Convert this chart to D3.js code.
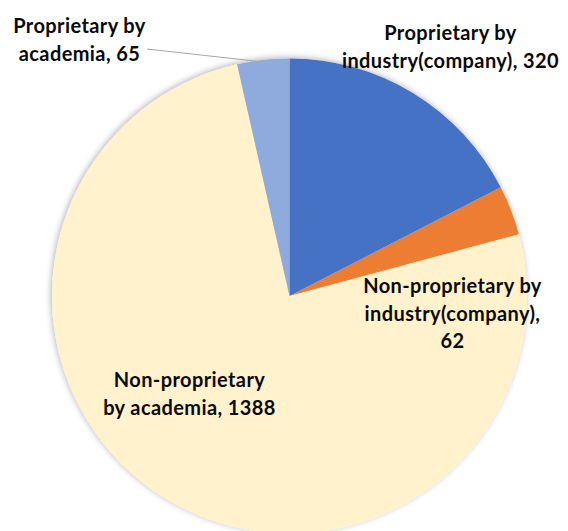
<!DOCTYPE html>
<html>
<head>
<meta charset="utf-8">
<script src="https://cdn.jsdelivr.net/npm/d3@7"></script>
<style>
  body { margin: 0; background: #fff; }
  svg { display: block; }
  .lbl { font-family: Lato, "Open Sans", sans-serif; font-weight: bold; font-size: 20px; letter-spacing: 0.4px; fill: #0a0a0a; }
</style>
</head>
<body>
<svg id="chart" width="568" height="531"></svg>
<script>
// slices, clockwise from 12 o'clock
var categories = ['Proprietary by industry(company)', 'Non-proprietary by industry(company)', 'Non-proprietary by academia', 'Proprietary by academia'];
var values = [320, 62, 1388, 65];
var colors = ['#4472C4', '#ED7D31', '#FFF2CC', '#8FAADC'];
var labelLines = [
  ['Proprietary by', 'industry(company), 320'],
  ['Non-proprietary by', 'industry(company),', '62'],
  ['Non-proprietary', 'by academia, 1388'],
  ['Proprietary by', 'academia, 65']
];

var cx = 289.5, cy = 296, r = 237.5;

var svg = d3.select('#chart');

var defs = svg.append('defs');
var f = defs.append('filter').attr('id', 'shadow')
  .attr('x', '-10%').attr('y', '-10%').attr('width', '120%').attr('height', '120%');
f.append('feDropShadow')
  .attr('dx', -1).attr('dy', -1).attr('stdDeviation', 3)
  .attr('flood-color', '#000').attr('flood-opacity', 0.3);

var pie = d3.pie().sort(null).value(function(d) { return d; });
var arcs = pie(values);
var arc = d3.arc().innerRadius(0).outerRadius(r);

var g = svg.append('g').attr('transform', 'translate(' + cx + ',' + cy + ')');

g.append('g').attr('filter', 'url(#shadow)')
  .selectAll('path')
  .data(arcs)
  .enter()
  .append('path')
  .attr('d', arc)
  .attr('fill', function(d, i) { return colors[i]; });

// label anchors (centre of first baseline), offsets from pie centre
var labelPos = [[161, -256], [163, -3], [-100, 91], [-210, -263]];
var lineH = 27.5;

labelLines.forEach(function(lines, i) {
  var t = svg.append('text')
    .attr('class', 'lbl')
    .attr('text-anchor', 'middle')
    .attr('x', cx + labelPos[i][0])
    .attr('y', cy + labelPos[i][1]);
  lines.forEach(function(s, j) {
    t.append('tspan')
      .attr('x', cx + labelPos[i][0])
      .attr('dy', j === 0 ? 0 : lineH)
      .text(s);
  });
});

// leader line for the small academia slice
var mid = arcs[3];
var a = (mid.startAngle + mid.endAngle) / 2;
var edge = [cx + r * Math.sin(a), cy - r * Math.cos(a)];
svg.append('line')
  .attr('x1', 147).attr('y1', 49)
  .attr('x2', edge[0]).attr('y2', edge[1] + 2)
  .attr('stroke', '#a6a6a6')
  .attr('stroke-width', 1);
</script>
</body>
</html>
